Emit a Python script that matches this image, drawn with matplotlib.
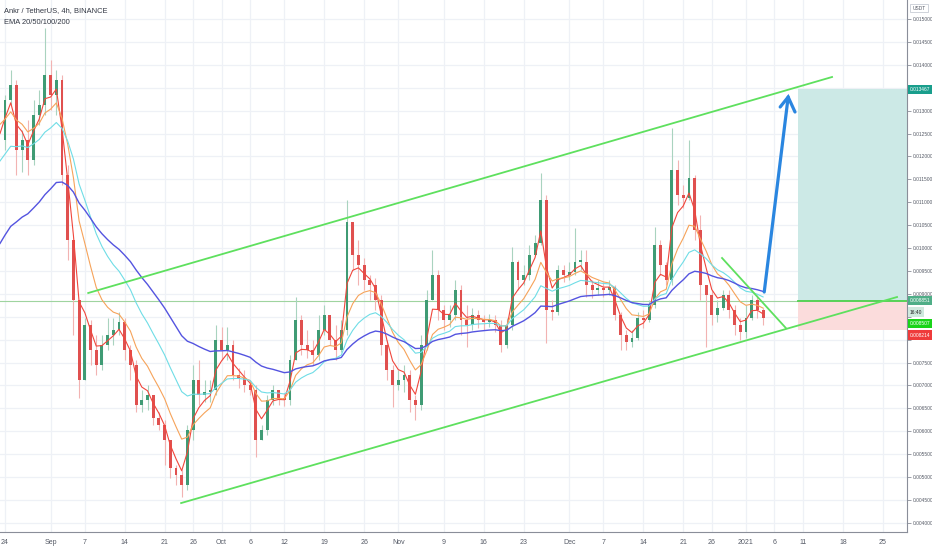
import matplotlib
matplotlib.use("Agg")
import matplotlib.pyplot as plt
import matplotlib.transforms as mtransforms
import numpy as np

# ---------------- data ----------------
first_open = 0.01236
closes = [0.01323, 0.01356, 0.01214, 0.01236, 0.01192, 0.01290, 0.01312, 0.01378, 0.01334, 0.01367,
          0.01160, 0.01018, 0.00887, 0.00712, 0.00832, 0.00777, 0.00745, 0.00788, 0.00810, 0.00821,
          0.00839, 0.00777, 0.00745, 0.00657, 0.00668, 0.00679, 0.00629, 0.00614, 0.00581, 0.00520,
          0.00505, 0.00483, 0.00603, 0.00712, 0.00679, 0.00686, 0.00690, 0.00799, 0.00777, 0.00788,
          0.00723, 0.00716, 0.00701, 0.00690, 0.00581, 0.00603, 0.00668, 0.00690, 0.00673, 0.00668,
          0.00756, 0.00843, 0.00788, 0.00777, 0.00766, 0.00821, 0.00854, 0.00799, 0.00777, 0.00821,
          0.01057, 0.00985, 0.00963, 0.00930, 0.00919, 0.00887, 0.00788, 0.00734, 0.00701, 0.00712,
          0.00723, 0.00668, 0.00657, 0.00788, 0.00887, 0.00941, 0.00865, 0.00843, 0.00854, 0.00908,
          0.00843, 0.00832, 0.00854, 0.00843, 0.00839, 0.00843, 0.00832, 0.00788, 0.00832, 0.00970,
          0.00930, 0.00941, 0.00985, 0.01011, 0.01105, 0.00865, 0.00860, 0.00952, 0.00941, 0.00948,
          0.00970, 0.00970, 0.00919, 0.00908, 0.00913, 0.00908, 0.00915, 0.00854, 0.00810, 0.00795,
          0.00804, 0.00847, 0.00843, 0.00876, 0.01007, 0.00963, 0.00930, 0.01170, 0.01116, 0.01109,
          0.01153, 0.01039, 0.00919, 0.00898, 0.00854, 0.00869, 0.00898, 0.00865, 0.00832, 0.00817,
          0.00847, 0.00887, 0.00865, 0.00847]
highs = [0.01334, 0.01389, 0.01367, 0.01258, 0.01280, 0.01323, 0.01345, 0.01480, 0.01410, 0.01389,
         0.01378, 0.01181, 0.01018, 0.00887, 0.00847, 0.00843, 0.00810, 0.00810, 0.00847, 0.00847,
         0.00860, 0.00847, 0.00788, 0.00756, 0.00690, 0.00701, 0.00679, 0.00642, 0.00625, 0.00548,
         0.00526, 0.00515, 0.00614, 0.00745, 0.00756, 0.00712, 0.00712, 0.00832, 0.00828, 0.00828,
         0.00799, 0.00738, 0.00734, 0.00712, 0.00701, 0.00614, 0.00679, 0.00701, 0.00690, 0.00684,
         0.00766, 0.00893, 0.00854, 0.00821, 0.00799, 0.00854, 0.00876, 0.00843, 0.00832, 0.00843,
         0.01105, 0.01050, 0.01018, 0.00978, 0.00941, 0.00935, 0.00898, 0.00799, 0.00745, 0.00734,
         0.00745, 0.00734, 0.00679, 0.00810, 0.00908, 0.00996, 0.00952, 0.00876, 0.00876, 0.00930,
         0.00919, 0.00876, 0.00869, 0.00865, 0.00854, 0.00856, 0.00854, 0.00843, 0.00847, 0.01002,
         0.00974, 0.00963, 0.01007, 0.01028, 0.01164, 0.01116, 0.00887, 0.00963, 0.00963, 0.00970,
         0.01044, 0.00996, 0.00996, 0.00930, 0.00930, 0.00926, 0.00930, 0.00919, 0.00860, 0.00821,
         0.00821, 0.00860, 0.00865, 0.00887, 0.01046, 0.01018, 0.00970, 0.01262, 0.01192, 0.01138,
         0.01236, 0.01160, 0.01072, 0.00919, 0.00908, 0.00887, 0.00908, 0.00908, 0.00876, 0.00847,
         0.00876, 0.00898, 0.00898, 0.00869]
lows = [0.01214, 0.01312, 0.01160, 0.01166, 0.01160, 0.01181, 0.01269, 0.01290, 0.01301, 0.01290,
        0.01138, 0.00974, 0.00810, 0.00673, 0.00712, 0.00745, 0.00723, 0.00734, 0.00777, 0.00788,
        0.00810, 0.00756, 0.00712, 0.00642, 0.00642, 0.00646, 0.00614, 0.00603, 0.00526, 0.00498,
        0.00483, 0.00456, 0.00472, 0.00581, 0.00657, 0.00664, 0.00664, 0.00679, 0.00756, 0.00756,
        0.00712, 0.00694, 0.00686, 0.00679, 0.00544, 0.00581, 0.00592, 0.00657, 0.00657, 0.00655,
        0.00657, 0.00756, 0.00766, 0.00760, 0.00745, 0.00756, 0.00810, 0.00788, 0.00756, 0.00773,
        0.00810, 0.00952, 0.00919, 0.00908, 0.00887, 0.00865, 0.00766, 0.00712, 0.00653, 0.00690,
        0.00686, 0.00642, 0.00625, 0.00646, 0.00777, 0.00887, 0.00843, 0.00821, 0.00828, 0.00843,
        0.00810, 0.00784, 0.00821, 0.00826, 0.00821, 0.00828, 0.00817, 0.00773, 0.00782, 0.00821,
        0.00908, 0.00919, 0.00930, 0.00985, 0.01007, 0.00793, 0.00843, 0.00854, 0.00926, 0.00930,
        0.00941, 0.00952, 0.00893, 0.00891, 0.00898, 0.00893, 0.00898, 0.00843, 0.00777, 0.00777,
        0.00784, 0.00799, 0.00826, 0.00839, 0.00869, 0.00941, 0.00919, 0.00919, 0.01094, 0.01087,
        0.01105, 0.01018, 0.00887, 0.00784, 0.00832, 0.00839, 0.00865, 0.00847, 0.00810, 0.00799,
        0.00804, 0.00843, 0.00847, 0.00832]

ema_periods = [20, 50, 100, 200]          # in 4h bars
ema_seeds = [0.01250, 0.01270, 0.01190, 0.01010]
bars_per_day = 6

# x tick positions (days after Aug 24, 2020) and labels
tick_days = [0, 8, 14, 21, 28, 33, 38, 43, 49, 56, 63, 69, 77, 84, 91, 99, 105, 112, 119, 124,
             130, 135, 140, 147, 154]
tick_labels = ["24", "Sep", "7", "14", "21", "26", "Oct", "6", "12", "19", "26", "Nov", "9",
               "16", "23", "Dec", "7", "14", "21", "26", "2021", "6", "11", "18", "25"]

# drawings (day, price)
upper_channel = [(14.6, 0.009018), (145.1, 0.013734)]
lower_channel = [(30.9, 0.004432), (156.5, 0.008930)]
wedge_line = [(125.8, 0.009782), (137.0, 0.008253)]
arrow_pts = [(133.2, 0.009039), (137.4, 0.013297)]
arrow_head = [(136.0, 0.013079), (137.4, 0.013297), (138.6, 0.012970)]
position_start = 139.1
target_price = 0.013467
entry_price = 0.008851
stop_price = 0.008214

# ---------------- figure ----------------
plt.rcParams['font.family'] = ['Liberation Sans', 'DejaVu Sans']
W, H = 932, 550
fig = plt.figure(figsize=(W / 100, H / 100), dpi=100)
ax = fig.add_axes([0, 18 / H, 907 / W, 532 / H])

xmin, xmax = -0.88, 158.25
ymin, ymax = 0.0038, 0.015415
ax.set_xlim(xmin, xmax)
ax.set_ylim(ymin, ymax)

# grid
yt = np.round(np.arange(0.0040, 0.01501, 0.0005), 6)
for v in yt:
    ax.axhline(v, color="#eef1f6", lw=0.9, zorder=0)
for d in tick_days:
    ax.axvline(d, color="#eef1f6", lw=0.9, zorder=0)

# candles
n = len(closes)
days = np.arange(n)
opens = [first_open] + closes[:-1]
up_c, dn_c = "#3f9b74", "#e0504f"
for d, o, h, l, c in zip(days, opens, highs, lows, closes):
    col = up_c if c >= o else dn_c
    wick = "#a9d3bf" if c >= o else "#f2b3b2"
    ax.vlines(d, l, h, color=wick, lw=0.8, zorder=2)
    ax.bar(d, max(abs(c - o), 0.00003), bottom=min(o, c), width=0.5, color=col,
           edgecolor="none", zorder=3)

# EMAs
ema_colors = ["#f0463c", "#f6a35a", "#6fdde6", "#5454e0"]
for per, seed, col in zip(ema_periods, ema_seeds, ema_colors):
    span = per / bars_per_day
    a = 2.0 / (span + 1.0)
    e = seed
    vals = []
    for c in closes:
        e = e + a * (c - e)
        vals.append(e)
    xs = np.concatenate([[xmin], days])
    ys = np.concatenate([[seed], vals])
    ax.plot(xs, ys, color=col, lw=1.0 if per == 200 else 0.8, zorder=4)

# entry horizontal line across chart
ax.axhline(entry_price, color="#9fd49f", lw=0.8, zorder=1)

# position boxes
ax.fill_between([position_start, xmax], entry_price, target_price, color="#cce9e6", zorder=1, lw=0)
ax.fill_between([position_start, xmax], stop_price, entry_price, color="#fbdcdc", zorder=1, lw=0)
ax.plot([position_start, xmax], [entry_price, entry_price], color="#4cd04c", lw=1.3, zorder=5)

# channel lines
green = "#5ee05e"
for seg in (upper_channel, lower_channel, wedge_line):
    ax.plot([seg[0][0], seg[1][0]], [seg[0][1], seg[1][1]], color=green, lw=1.3, zorder=6)

# arrow
blue = "#2a86e0"
ax.plot([arrow_pts[0][0], arrow_pts[1][0]], [arrow_pts[0][1], arrow_pts[1][1]], color=blue,
        lw=2.3, zorder=7, solid_capstyle="round")
ax.plot([p[0] for p in arrow_head], [p[1] for p in arrow_head], color=blue, lw=2.3, zorder=7,
        solid_capstyle="round", solid_joinstyle="miter")

# axes styling
for s in ("top", "left"):
    ax.spines[s].set_visible(False)
ax.spines["bottom"].set_color("#8a8e99")
ax.spines["right"].set_color("#8a8e99")
ax.spines["bottom"].set_linewidth(0.8)
ax.spines["right"].set_linewidth(0.8)

hidden = {0.0135, 0.0085, 0.008}
ax.yaxis.tick_right()
ax.set_yticks(yt)
ax.set_yticklabels(["" if round(v, 6) in hidden else f"{v:.6f}" for v in yt])
ax.tick_params(axis="y", length=3, width=0.6, color="#8a8e99", labelsize=3.5,
               labelcolor="#555a66", pad=1.2)
ax.set_xticks(tick_days)
ax.set_xticklabels(tick_labels)
ax.tick_params(axis="x", length=0, labelsize=5.0, labelcolor="#555a66", pad=5)

# price badges on right axis
trans = mtransforms.blended_transform_factory(ax.transAxes, ax.transData)
def badge(price, text, bg, fg="white", y=None):
    ax.text(1.003, price if y is None else y, text, transform=trans, fontsize=3.5, color=fg,
            va="center", ha="left", zorder=10, clip_on=False,
            bbox=dict(boxstyle="square,pad=0.45", fc=bg, ec="none"))

badge(target_price, "0.013467", "#199e8c")
badge(entry_price, "0.008851", "#4fae87")
badge(entry_price, "16:40", "#cfe9de", fg="#222222", y=0.008600)
badge(stop_price, "0.008507", "#19d419", y=0.008350)
badge(stop_price, "0.008214", "#ef3b3b", y=0.008100)

fig.text(919 / W, 1 - 8 / H, "USDT", fontsize=3.5, color="#555a66", ha="center", va="center",
         bbox=dict(boxstyle="square,pad=0.4", fc="white", ec="#c8ccd4", lw=0.6))

# title text
fig.text(4 / W, 1 - 11 / H, "Ankr / TetherUS, 4h, BINANCE", fontsize=5.4, color="#333844",
         ha="left", va="center")
fig.text(4 / W, 1 - 23 / H, "EMA 20/50/100/200", fontsize=5.4, color="#333844",
         ha="left", va="center")

fig.savefig("out.png", dpi=100)
